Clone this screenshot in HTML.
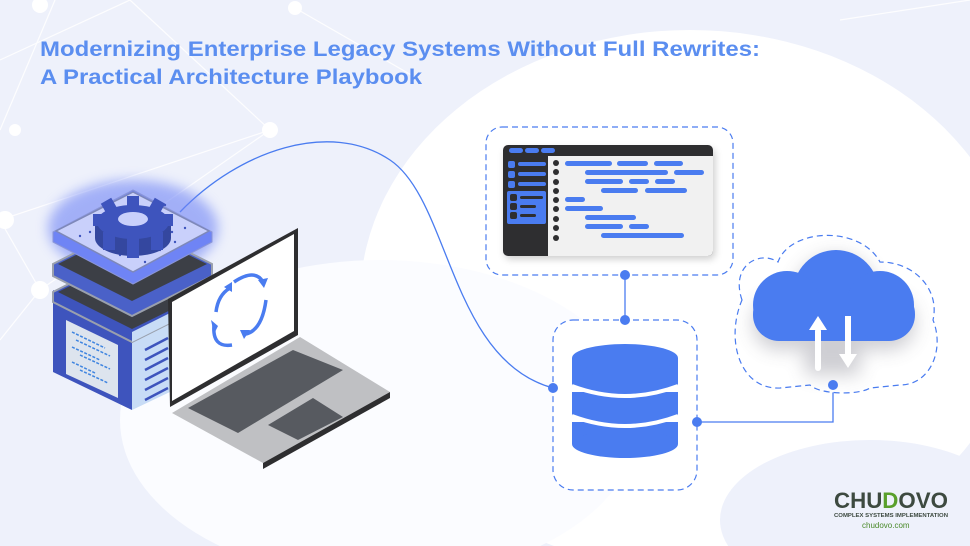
<!DOCTYPE html>
<html><head><meta charset="utf-8"><style>
html,body{margin:0;padding:0;width:970px;height:546px;overflow:hidden;background:#eef1fb}
svg{display:block}
</style></head><body>
<svg width="970" height="546" viewBox="0 0 970 546" xmlns="http://www.w3.org/2000/svg">
<defs>
<filter id="glow" x="-30%" y="-30%" width="160%" height="160%"><feGaussianBlur stdDeviation="6"/></filter>
<filter id="sh" x="-20%" y="-20%" width="140%" height="140%"><feGaussianBlur stdDeviation="4"/></filter>
<filter id="sh2" x="-30%" y="-30%" width="160%" height="160%"><feGaussianBlur stdDeviation="9"/></filter>
</defs>
<rect width="970" height="546" fill="#eef1fb"/>
<g stroke="#ffffff" stroke-width="1.2" opacity="0.9">
<line x1="0" y1="60" x2="130" y2="0"/><line x1="130" y1="0" x2="270" y2="130"/>
<line x1="0" y1="220" x2="270" y2="130"/><line x1="40" y1="290" x2="270" y2="130"/>
<line x1="0" y1="220" x2="40" y2="290"/><line x1="0" y1="130" x2="55" y2="0"/>
<line x1="295" y1="8" x2="420" y2="80"/><line x1="840" y1="20" x2="970" y2="0"/>
<line x1="0" y1="340" x2="40" y2="290"/>
<line x1="860" y1="470" x2="960" y2="546"/><line x1="900" y1="490" x2="860" y2="546"/>
</g>
<g fill="#ffffff">
<circle cx="5" cy="220" r="9"/><circle cx="40" cy="290" r="9"/><circle cx="270" cy="130" r="8"/>
<circle cx="295" cy="8" r="7"/><circle cx="630" cy="95" r="9"/><circle cx="960" cy="486" r="10"/>
<circle cx="40" cy="5" r="8"/><circle cx="15" cy="130" r="6"/>
</g>
<ellipse cx="690" cy="300" rx="330" ry="270" fill="#ffffff"/>
<ellipse cx="380" cy="420" rx="260" ry="160" fill="#fbfcff"/>
<ellipse cx="870" cy="520" rx="150" ry="80" fill="#eef1fb"/>
<text x="40" y="56" textLength="720" lengthAdjust="spacingAndGlyphs" font-family="'Liberation Sans',sans-serif" font-weight="700" font-size="21" fill="#5b8ef0">Modernizing Enterprise Legacy Systems Without Full Rewrites:</text>
<text x="40" y="84" textLength="382" lengthAdjust="spacingAndGlyphs" font-family="'Liberation Sans',sans-serif" font-weight="700" font-size="21" fill="#5b8ef0">A Practical Architecture Playbook</text>

<path d="M180 212 C 240 150, 330 120, 390 160 C 450 200, 450 360, 553 388" fill="none" stroke="#4a7cf0" stroke-width="1.3"/>
<line x1="625" y1="275" x2="625" y2="320" stroke="#4a7cf0" stroke-width="1.3"/>
<path d="M697 422 H833 V386" fill="none" stroke="#4a7cf0" stroke-width="1.3"/>

<!-- editor -->
<rect x="486" y="127" width="247" height="148" rx="16" fill="#ffffff" stroke="#4a7cf0" stroke-dasharray="6 4" stroke-width="1.2"/>
<rect x="505" y="149" width="210" height="110" rx="5" fill="#000" opacity="0.2" filter="url(#sh)"/>
<rect x="503" y="145" width="210" height="111" rx="5" fill="#2e2e30"/>
<path d="M548 156 H713 V251 a5 5 0 0 1 -5 5 H548 Z" fill="#f1f1f1"/>
<g fill="#4a7cf0">
<rect x="509" y="148" width="14" height="5" rx="2.5"/><rect x="525" y="148" width="14" height="5" rx="2.5"/><rect x="541" y="148" width="14" height="5" rx="2.5"/>
<rect x="508" y="161" width="7" height="7" rx="2"/><rect x="518" y="162" width="28" height="4" rx="2"/>
<rect x="508" y="171" width="7" height="7" rx="2"/><rect x="518" y="172" width="28" height="4" rx="2"/>
<rect x="508" y="181" width="7" height="7" rx="2"/><rect x="518" y="182" width="28" height="4" rx="2"/>
<rect x="507" y="191" width="39" height="33" rx="2"/>
</g>
<g fill="#2e2e30">
<rect x="510" y="194" width="7" height="7" rx="2"/><rect x="520" y="196" width="23" height="3" rx="1.5"/>
<rect x="510" y="203" width="7" height="7" rx="2"/><rect x="520" y="205" width="16" height="3" rx="1.5"/>
<rect x="510" y="212" width="7" height="7" rx="2"/><rect x="520" y="214" width="16" height="3" rx="1.5"/>
<circle cx="556" cy="163" r="3"/><circle cx="556" cy="172" r="3"/><circle cx="556" cy="182" r="3"/><circle cx="556" cy="191" r="3"/><circle cx="556" cy="200" r="3"/><circle cx="556" cy="209" r="3"/><circle cx="556" cy="219" r="3"/><circle cx="556" cy="228" r="3"/><circle cx="556" cy="238" r="3"/>
</g>
<g fill="#4a7cf0">
<rect x="565" y="161" width="47" height="5" rx="2.5"/><rect x="617" y="161" width="31" height="5" rx="2.5"/><rect x="654" y="161" width="29" height="5" rx="2.5"/>
<rect x="585" y="170" width="83" height="5" rx="2.5"/><rect x="674" y="170" width="30" height="5" rx="2.5"/>
<rect x="585" y="179" width="38" height="5" rx="2.5"/><rect x="629" y="179" width="20" height="5" rx="2.5"/><rect x="655" y="179" width="20" height="5" rx="2.5"/>
<rect x="601" y="188" width="37" height="5" rx="2.5"/><rect x="645" y="188" width="42" height="5" rx="2.5"/>
<rect x="565" y="197" width="20" height="5" rx="2.5"/>
<rect x="565" y="206" width="38" height="5" rx="2.5"/>
<rect x="585" y="215" width="51" height="5" rx="2.5"/>
<rect x="585" y="224" width="38" height="5" rx="2.5"/><rect x="629" y="224" width="20" height="5" rx="2.5"/>
<rect x="601" y="233" width="83" height="5" rx="2.5"/>
</g>

<!-- database -->
<rect x="553" y="320" width="144" height="170" rx="20" fill="#ffffff" stroke="#4a7cf0" stroke-dasharray="6 4" stroke-width="1.2"/>
<g fill="#4a7cf0">
<rect x="572" y="358" width="106" height="26"/>
<ellipse cx="625" cy="358" rx="53" ry="14"/>
<ellipse cx="625" cy="384" rx="53" ry="12"/>
<rect x="572" y="392" width="106" height="22"/>
<ellipse cx="625" cy="414" rx="53" ry="12"/>
<rect x="572" y="422" width="106" height="22"/>
<ellipse cx="625" cy="444" rx="53" ry="14"/>
</g>
<path d="M572 386 Q625 406 678 386" fill="none" stroke="#fff" stroke-width="4"/>
<path d="M572 416 Q625 436 678 416" fill="none" stroke="#fff" stroke-width="4"/>

<!-- cloud -->
<path d="M742 300 C 730 265 760 250 778 262 C 790 228 860 225 880 262 C 915 262 940 290 933 320 C 945 350 930 385 900 385 L 870 388 C 860 395 820 395 810 385 L 780 388 C 740 390 725 340 742 300 Z" fill="#ffffff" stroke="#4a7cf0" stroke-dasharray="6 4" stroke-width="1.2"/>
<g filter="url(#sh2)" opacity="0.3">
<rect x="753" y="296" width="162" height="54" rx="26" fill="#606070"/><circle cx="836" cy="298" r="43" fill="#606070"/>
<rect x="805" y="330" width="55" height="45" fill="#606070"/>
</g>
<g fill="#4a7cf0">
<rect x="753" y="288" width="162" height="53" rx="26"/>
<circle cx="836" cy="293" r="43"/>
<circle cx="787" cy="305" r="34"/>
<circle cx="880" cy="305" r="34"/>
</g>
<g fill="#ffffff">
<rect x="815" y="328" width="6" height="43" rx="3"/><polygon points="809,330 818,316 827,330"/>
<rect x="845" y="316" width="6" height="42"/><polygon points="839,354 848,368 857,354"/>
</g>

<g fill="#4a7cf0">
<circle cx="625" cy="275" r="5"/><circle cx="625" cy="320" r="5"/>
<circle cx="553" cy="388" r="5"/><circle cx="697" cy="422" r="5"/><circle cx="833" cy="385" r="5"/>
</g>

<!-- server -->
<ellipse cx="133" cy="228" rx="85" ry="48" fill="#6f84f5" filter="url(#glow)" opacity="0.6"/>
<polygon points="53,290 132,330 132,410 53,372" fill="#3e54bd"/>
<polygon points="132,330 212,290 212,372 132,410" fill="#c8dcf6"/>
<polygon points="66,320 118,345 118,398 66,374" fill="#dde4ee"/>
<g stroke="#3e84e0" stroke-width="1.5" stroke-dasharray="3 1.5">
<line x1="72" y1="332" x2="105" y2="348"/><line x1="76" y1="340" x2="110" y2="356"/><line x1="72" y1="347" x2="100" y2="360"/><line x1="80" y1="355" x2="110" y2="369"/><line x1="72" y1="362" x2="95" y2="373"/><line x1="80" y1="370" x2="108" y2="383"/>
</g>
<g stroke="#3e54bd" stroke-width="2.5"><line x1="145" y1="350" x2="168" y2="338"/><line x1="145" y1="360" x2="168" y2="348"/><line x1="145" y1="370" x2="168" y2="358"/><line x1="145" y1="380" x2="168" y2="368"/><line x1="145" y1="390" x2="168" y2="378"/><line x1="145" y1="400" x2="168" y2="388"/><line x1="150" y1="312" x2="175" y2="300"/></g>
<polygon points="53,292 132,252 212,292 212,302 132,342 53,302" fill="#3e54bd" stroke="#9aa0ad" stroke-width="2"/>
<polygon points="132,342 212,302 212,292 132,332" fill="#c8dcf6"/>
<polygon points="58,292 132,255 207,292 132,329" fill="#3c3f46"/>
<polygon points="53,264 132,224 212,264 212,276 132,316 53,276" fill="#4a61c8" stroke="#9aa0ad" stroke-width="2"/>
<polygon points="58,264 132,227 207,264 132,301" fill="#3c3f46"/>
<polygon points="53,232 133,190 212,232 212,242 133,284 53,242" fill="#6f84f5" stroke="#8a95d8" stroke-width="1" stroke-linejoin="round"/>
<polygon points="56,231 133,192 209,231 133,272" fill="#c9d0fb" stroke="#7e88b8" stroke-width="1.5" stroke-linejoin="round"/>
<g fill="#3e54bd">
<circle cx="90" cy="232" r="1.2"/><circle cx="100" cy="222" r="1.2"/><circle cx="110" cy="212" r="1.2"/><circle cx="172" cy="232" r="1.2"/><circle cx="185" cy="228" r="1.2"/><circle cx="160" cy="250" r="1.2"/><circle cx="120" cy="255" r="1.2"/><circle cx="100" cy="245" r="1.2"/><circle cx="175" cy="242" r="1.2"/><circle cx="80" cy="236" r="1.2"/><circle cx="145" cy="262" r="1.2"/><circle cx="165" cy="205" r="1.2"/>
</g>
<!-- gear -->
<g fill="#34479f">
<rect x="95" y="222" width="76" height="16"/>
<ellipse cx="133" cy="238" rx="38" ry="18"/>
</g>
<g fill="#3e54bd">
<rect x="127" y="196" width="12" height="14"/><rect x="127" y="236" width="12" height="22"/>
<rect x="93" y="214" width="14" height="12"/><rect x="159" y="214" width="14" height="12"/>
<rect x="103" y="200" width="12" height="12" transform="rotate(-30 109 206)"/><rect x="151" y="200" width="12" height="12" transform="rotate(30 157 206)"/>
<rect x="103" y="232" width="12" height="18"/><rect x="151" y="232" width="12" height="18"/>
<ellipse cx="133" cy="222" rx="36" ry="17"/>
</g>
<ellipse cx="133" cy="219" rx="15" ry="7" fill="#c9d0fb"/>
<!-- laptop -->
<polygon points="172,413 300,337 390,392 263,463" fill="#bfc0c3"/>
<polygon points="263,463 390,392 390,398 263,469" fill="#2e2e30"/>
<polygon points="188,408 293,350 343,370 238,433" fill="#575a60"/>
<polygon points="268,425 313,398 343,417 298,440" fill="#575a60"/>
<polygon points="168,299 298,228 298,335 170,407" fill="#2e2e30"/>
<polygon points="172,302 294,234 294,331 172,401" fill="#ffffff"/>
<g fill="none" stroke="#4a7cf0" stroke-width="3.5">
<path d="M234 282 Q 255 268 263 282"/><path d="M266 300 Q 262 330 246 334"/><path d="M232 345 Q 212 348 214 325"/><path d="M216 312 Q 218 295 230 288"/>
</g>
<g fill="#4a7cf0"><polygon points="258,280 268,278 264,288"/><polygon points="250,330 244,339 240,330"/><polygon points="218,326 211,320 214,334"/><polygon points="224,287 232,282 232,292"/></g>

<text x="834" y="508" textLength="114" lengthAdjust="spacingAndGlyphs" font-family="'Liberation Sans',sans-serif" font-weight="700" font-size="22" fill="#3d4a40">CHU<tspan fill="#5aa02c">D</tspan>OVO</text>
<text x="834" y="517" textLength="114" lengthAdjust="spacingAndGlyphs" font-family="'Liberation Sans',sans-serif" font-weight="700" font-size="5.6" fill="#3d4a40">COMPLEX SYSTEMS IMPLEMENTATION</text>
<text x="862" y="528" font-family="'Liberation Sans',sans-serif" font-size="8" fill="#4a8a2a">chudovo.com</text>
</svg>
</body></html>
